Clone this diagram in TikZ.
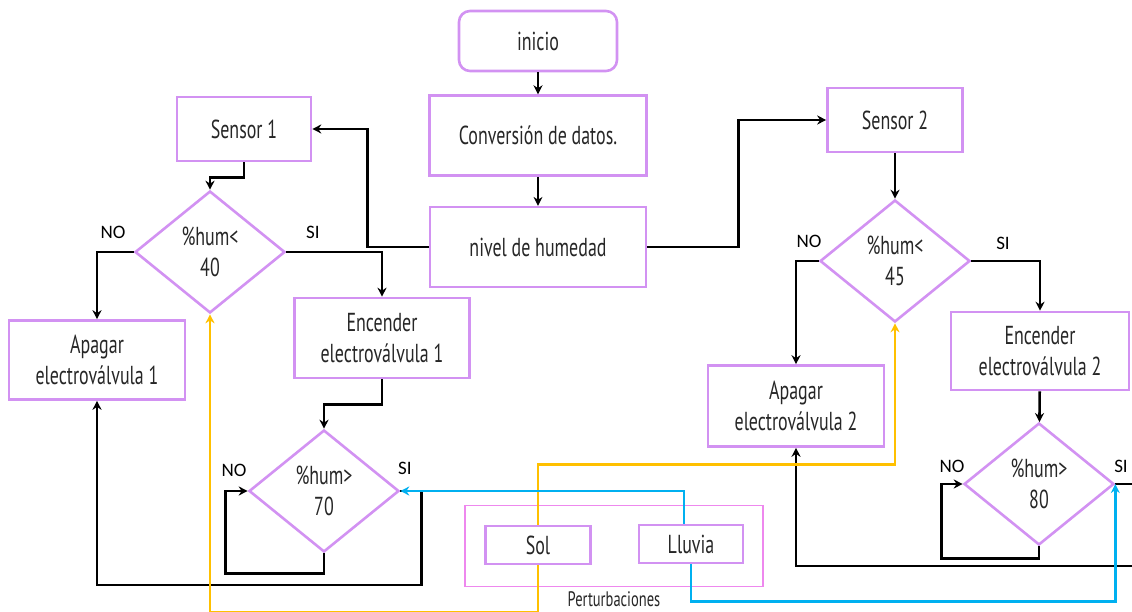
\documentclass[tikz,border=0pt]{standalone}
\usepackage{fontspec}
\setmainfont{PT Sans}[FakeStretch=0.69]
\newfontfamily\etiqfont{Carlito}
\usepackage{xcolor}
\usepackage{tikz}
\usetikzlibrary{positioning, shapes.geometric, arrows.meta}

\definecolor{lila}{HTML}{D292F2}
\definecolor{rosa}{HTML}{EE88EE}
\definecolor{sol}{HTML}{FFC000}
\definecolor{agua}{HTML}{00B0F0}

\begin{document}
\begin{tikzpicture}[x=1pt, y=-1pt,
    caja/.style={draw=lila, line width=2.6pt, rectangle, align=center, text=black!85,
      font=\fontsize{26}{31}\selectfont, inner sep=0pt},
    rombo/.style={draw=lila, line width=2.6pt, diamond, align=center, text=black!85,
      font=\fontsize{26}{31}\selectfont, inner sep=0pt, minimum width=150pt, minimum height=122pt},
    flecha/.style={line width=2.6pt, -{Stealth[length=9pt, width=9pt]}},
    etiq/.style={font=\etiqfont\fontsize{19}{22}\selectfont, text=black},
    sollinea/.style={draw=sol, line width=2pt},
    agualinea/.style={draw=agua, line width=2pt}]
    \useasboundingbox (0,0) rectangle (1132,612);

    % central column
    \node[caja, rounded corners=11pt, minimum width=158pt, minimum height=60pt] (ini) at (538,41) {inicio};
    \node[caja, minimum width=217pt, minimum height=80pt, below=22pt of ini] (conv) {Conversión de datos.};
    \node[caja, minimum width=216pt, minimum height=80pt, below=29pt of conv] (niv) {nivel de humedad};

    % sensor 1 branch
    \node[caja, minimum width=134pt, minimum height=64pt] (s1) at (244,129) {Sensor 1};
    \node[rombo] (d1) at (210,252) {\%hum<\\40};
    \node[caja, minimum width=176pt, minimum height=79pt] (ap1) at (97,360) {Apagar\\electroválvula 1};
    \node[caja, minimum width=175pt, minimum height=80pt] (en1) at (382,338) {Encender\\electroválvula 1};
    \node[rombo] (d3) at (324,491) {\%hum>\\70};

    % sensor 2 branch
    \node[caja, minimum width=135pt, minimum height=64pt] (s2) at (895,120) {Sensor 2};
    \node[rombo] (d2) at (895,261) {\%hum<\\45};
    \node[caja, minimum width=176pt, minimum height=81pt] (ap2) at (796,406) {Apagar\\electroválvula 2};
    \node[caja, minimum width=178pt, minimum height=78pt] (en2) at (1040,351) {Encender\\electroválvula 2};
    \node[rombo] (d4) at (1039,484) {\%hum>\\80};

    % disturbances
    \node[draw=rosa, line width=1.4pt, minimum width=298pt, minimum height=81pt] (pert) at (614,546) {};
    \node[caja, minimum width=105pt, minimum height=38pt] (sol) at (538,545) {Sol};
    \node[caja, minimum width=104pt, minimum height=38pt] (llu) at (691,544) {Lluvia};
    \node[font=\fontsize{21}{24}\selectfont, text=black!85, anchor=base, inner sep=0pt] (ptxt) at (614,606) {Perturbaciones};

    % labels
    \node[etiq] (no1) at (113,232) {NO};
    \node[etiq] (si1) at (313,232) {SI};
    \node[etiq] (no2) at (809,241) {NO};
    \node[etiq] (si2) at (1003,243) {SI};
    \node[etiq] (no3) at (234,470) {NO};
    \node[etiq] (si3) at (405,468) {SI};
    \node[etiq] (no4) at (952,466) {NO};
    \node[etiq] (si4) at (1121,466) {SI};

    % main flow
    \draw[flecha] (ini) -- (conv);
    \draw[flecha] (conv) -- (niv);
    \draw[flecha] (niv.west) -- ++(-61,0) |- (s1.east);
    \draw[flecha] (niv.east) -- ++(91,0) |- (s2.west);

    % sensor 1 flow
    \draw[flecha] (s1.south) -- ++(0,15) -| (d1.north);
    \draw[flecha] (d1.west) -| (ap1.north);
    \draw[flecha] (d1.east) -| (en1.north);
    \draw[flecha] (en1.south) -- ++(0,25) -| (d3.north);
    \draw[flecha] (d3.south) -- ++(0,20) -| ([xshift=-22pt]d3.west) -- (d3.west);
    \draw[flecha] (d3.east) -| ++(21,94) -| (ap1.south);

    % sensor 2 flow
    \draw[flecha] (s2) -- (d2);
    \draw[flecha] (d2.west) -| (ap2.north);
    \draw[flecha] (d2.east) -| (en2.north);
    \draw[flecha] (en2) -- (d4);
    \draw[flecha] (d4.south) -- ++(0,12) -| ([xshift=-21pt]d4.west) -- (d4.west);
    \draw[flecha] (d4.east) -| ++(40,82) -| (ap2.south);

    % disturbances flow
    \draw[sollinea, flecha] (sol.north) -- ++(0,-60) -| (d2.south);
    \draw[sollinea, flecha] (sol.south) -- ++(0,47) -| (d1.south);
    \draw[agualinea, flecha] ([xshift=-7pt]llu.north) |- (d3.east);
    \draw[agualinea, flecha] (llu.south) -- ++(0,37) -| (d4.east);
\end{tikzpicture}
\end{document}
